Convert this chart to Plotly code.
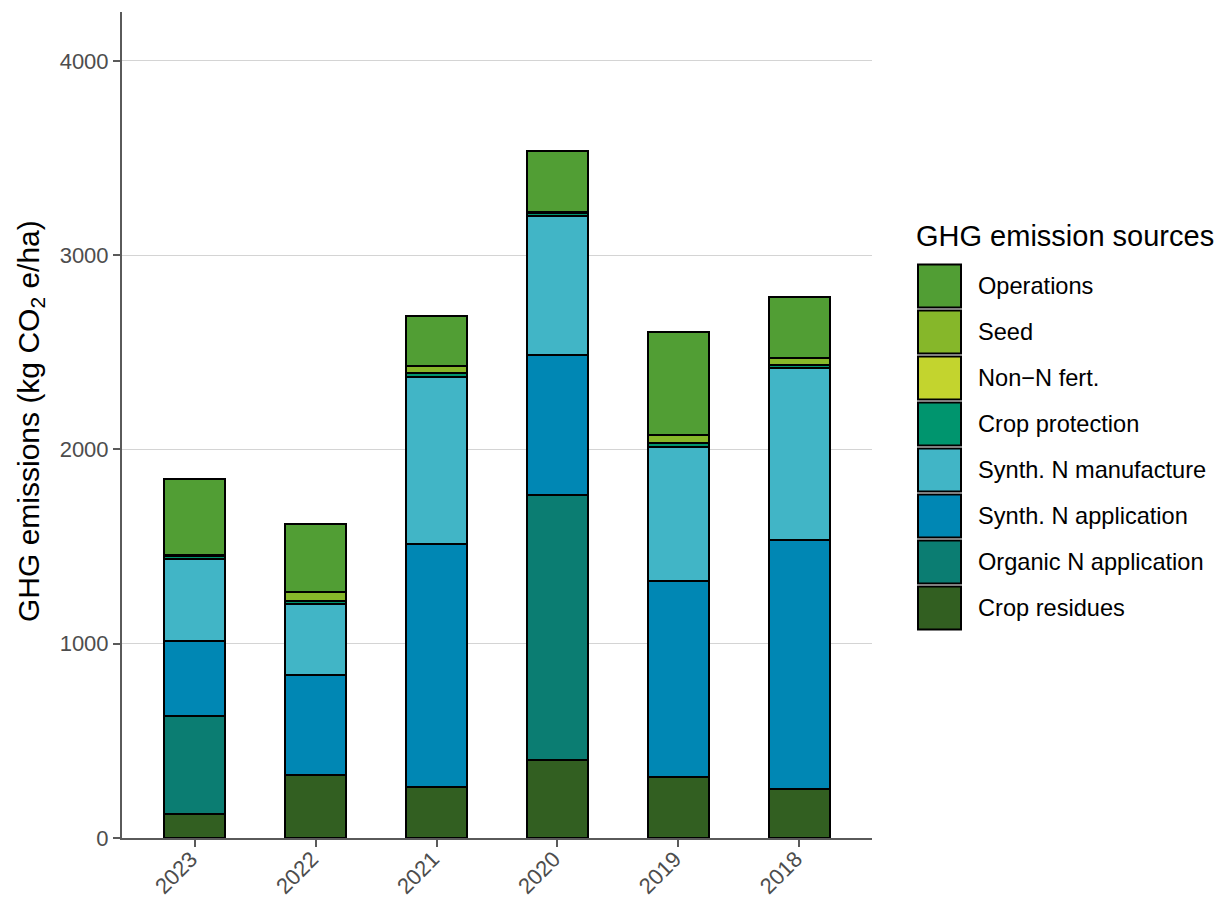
import plotly.graph_objects as go

# Seasons on the x axis (shown newest first)
years = ["2023", "2022", "2021", "2020", "2019", "2018"]

# Emissions per source, kg CO2e/ha, stacked bottom to top
crop_residues = [122, 324, 265, 401, 316, 253]
organic_n_application = [506, 0, 0, 1363, 0, 0]
synth_n_application = [384, 515, 1248, 724, 1009, 1281]
synth_n_manufacture = [423, 364, 860, 716, 686, 884]
crop_protection = [18, 19, 20, 15, 20, 18]
non_n_fert = [0, 0, 0, 0, 0, 0]
seed = [2, 45, 36, 3, 42, 37]
operations = [393, 348, 260, 316, 531, 314]

source_names = [
    "Crop residues",
    "Organic N application",
    "Synth. N application",
    "Synth. N manufacture",
    "Crop protection",
    "Non\u2212N fert.",
    "Seed",
    "Operations",
]
source_values = [
    crop_residues,
    organic_n_application,
    synth_n_application,
    synth_n_manufacture,
    crop_protection,
    non_n_fert,
    seed,
    operations,
]
source_colors = [
    "#325F21",
    "#0B7D72",
    "#0087B4",
    "#41B5C6",
    "#00956E",
    "#C3D42E",
    "#86B72A",
    "#519E34",
]

FONT = "Liberation Sans, Arial, sans-serif"
W, H = 1218, 899
L, R, T, B = 122, 346, 12, 61
plot_w, plot_h = W - L - R, H - T - B

fig = go.Figure()
for name, vals, col in zip(source_names, source_values, source_colors):
    fig.add_trace(go.Bar(
        x=years, y=vals, name=name, width=0.5,
        marker=dict(color=col, line=dict(color="black", width=2)),
        showlegend=False,
    ))


def px_x(px):
    return (px - L) / plot_w


def px_y(py):
    return (H - B - py) / plot_h


# Legend drawn as keys + labels, top entry first
shapes = []
annotations = []
key_x0, key_x1 = 918, 961
row_h = 46
first_center = 286
for i, (name, col) in enumerate(zip(source_names[::-1], source_colors[::-1])):
    cy = first_center + i * row_h
    shapes.append(dict(
        type="rect", xref="paper", yref="paper",
        x0=px_x(key_x0), x1=px_x(key_x1),
        y0=px_y(cy + 21.5), y1=px_y(cy - 21.5),
        fillcolor=col, line=dict(color="black", width=2),
    ))
    annotations.append(dict(
        x=px_x(976), y=px_y(cy), xref="paper", yref="paper",
        xanchor="left", yanchor="middle", showarrow=False,
        text=name, font=dict(family=FONT, size=23.6, color="black"),
    ))

annotations.append(dict(
    x=px_x(914), y=px_y(236), xref="paper", yref="paper",
    xanchor="left", yanchor="middle", showarrow=False,
    text="GHG emission sources", font=dict(family=FONT, size=29, color="black"),
))
annotations.append(dict(
    x=px_x(31), y=px_y(421), xref="paper", yref="paper",
    xanchor="center", yanchor="middle", showarrow=False, textangle=-90,
    text="GHG emissions (kg CO<sub>2</sub> e/ha)",
    font=dict(family=FONT, size=30, color="black"),
))

# Slanted year labels hanging from each x tick (category index positions)
for idx, yr in enumerate(years):
    annotations.append(dict(
        x=idx, xref="x", y=px_y(844), yref="paper",
        xanchor="right", yanchor="top", xshift=11, showarrow=False,
        textangle=-45, text=yr,
        font=dict(family=FONT, size=22, color="#4D4D4D"),
    ))

fig.update_layout(
    barmode="stack",
    width=W, height=H,
    margin=dict(l=L, r=R, t=T, b=B, autoexpand=False),
    paper_bgcolor="white", plot_bgcolor="white",
    shapes=shapes, annotations=annotations,
    font=dict(family=FONT),
)
fig.update_xaxes(
    type="category", range=[-0.6, 5.6],
    showline=True, linecolor="#5A5A5A", linewidth=2,
    ticks="outside", ticklen=7, tickwidth=2, tickcolor="#5A5A5A",
    showticklabels=False,
    showgrid=False, zeroline=False,
)
fig.update_yaxes(
    range=[0, 4252], tickvals=[0, 1000, 2000, 3000, 4000],
    showline=True, linecolor="#5A5A5A", linewidth=2,
    ticks="outside", ticklen=7, tickwidth=2, tickcolor="#5A5A5A",
    tickfont=dict(family=FONT, size=22, color="#4D4D4D"),
    showgrid=True, gridcolor="#D4D4D4", gridwidth=1,
    zeroline=False,
)

fig.write_html("out.html")
